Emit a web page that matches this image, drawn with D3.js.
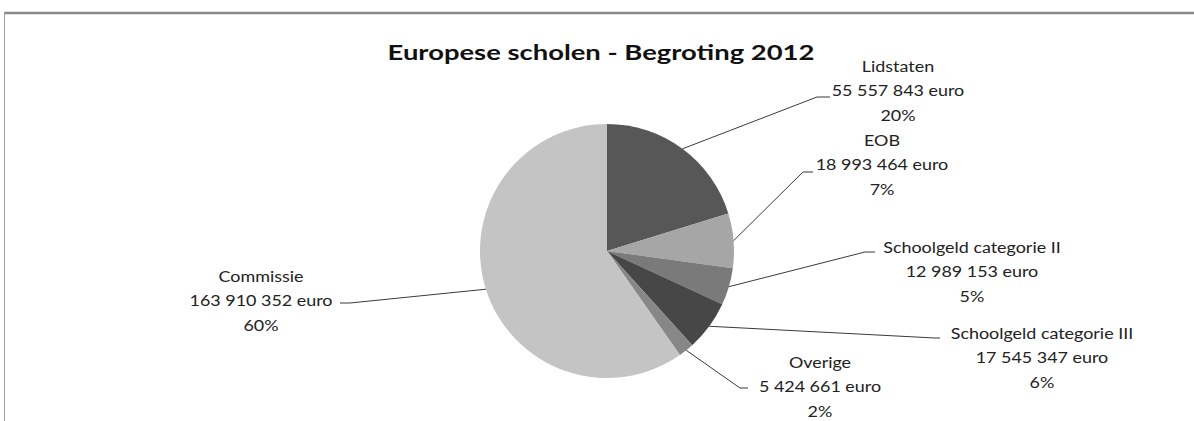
<!DOCTYPE html>
<html>
<head>
<meta charset="utf-8">
<script src="https://cdn.jsdelivr.net/npm/d3@7"></script>
<style>
  html, body { margin: 0; padding: 0; background: #fff; }
  svg { display: block; }
  text { font-family: Lato, "Open Sans", sans-serif; fill: #222; }
</style>
</head>
<body>
<svg id="chart" width="1194" height="421"></svg>
<script>
// ---- data ----
const categories = ["Lidstaten", "EOB", "Schoolgeld categorie II", "Schoolgeld categorie  III", "Overige", "Commissie"];
const values = [55557843, 18993464, 12989153, 17545347, 5424661, 163910352];
const amountLabels = ["55 557 843 euro", "18 993 464 euro", "12 989 153 euro", "17 545 347 euro", "5 424 661 euro", "163 910 352 euro"];
const percentLabels = ["20%", "7%", "5%", "6%", "2%", "60%"];
const title = "Europese scholen - Begroting 2012";

// ---- styles / layout ----
const colors = ["#575757", "#a6a6a6", "#7a7a7a", "#474747", "#878787", "#c4c4c4"];
const cx = 607, cy = 251, radius = 127;
// label layout: text center x, first line center y, leader elbow, leader end
const labelLayout = [
  { tx: 898, ty: 66, elbow: [817, 97], end: [830, 97] },
  { tx: 882, ty: 140, elbow: [803, 172], end: [813, 172] },
  { tx: 972, ty: 247, elbow: [865, 252], end: [875, 252] },
  { tx: 1042, ty: 333, elbow: [935, 338], end: [940, 338] },
  { tx: 820, ty: 362, elbow: [740, 388], end: [748, 388] },
  { tx: 261, ty: 276, elbow: [350, 303], end: [340, 303] }
];
const lineGap = 24.8;
const labelStretch = 1.12;
const titleWidth = 427;

const svg = d3.select("#chart");

// frame
svg.append("line").attr("x1", 4).attr("x2", 1194).attr("y1", 13).attr("y2", 13)
  .attr("stroke", "#8a8a8a").attr("stroke-width", 2.5);
svg.append("line").attr("x1", 4.5).attr("x2", 4.5).attr("y1", 12).attr("y2", 421)
  .attr("stroke", "#a0a0a0").attr("stroke-width", 1);

// title
const titleX = 601;
const tt = svg.append("text").attr("x", titleX).attr("y", 60).attr("text-anchor", "middle")
  .style("font-weight", "bold").style("font-size", "21px").style("fill", "#111")
  .text(title);
const tLen = tt.node().getComputedTextLength();
const tScale = titleWidth / tLen;
tt.attr("transform", `translate(${titleX},0) scale(${tScale},1) translate(${-titleX},0)`);

const data = categories.map((c, i) => ({ name: c, value: values[i], amount: amountLabels[i], pct: percentLabels[i], color: colors[i], layout: labelLayout[i] }));

const pie = d3.pie().sort(null).value(d => d.value);
const arcs = pie(data);
const arc = d3.arc().innerRadius(0).outerRadius(radius);

const g = svg.append("g").attr("transform", `translate(${cx},${cy})`);
g.selectAll("path").data(arcs).join("path")
  .attr("d", arc)
  .attr("fill", d => d.data.color)
  .attr("stroke", "none");

// leader lines + labels
arcs.forEach(a => {
  const mid = (a.startAngle + a.endAngle) / 2;
  const sx = cx + Math.sin(mid) * radius;
  const sy = cy - Math.cos(mid) * radius;
  const L = a.data.layout;
  svg.append("polyline")
    .attr("points", [[sx, sy], L.elbow, L.end].map(p => p.join(",")).join(" "))
    .attr("fill", "none").attr("stroke", "#3a3a3a").attr("stroke-width", 1);

  const t = svg.append("text").attr("text-anchor", "middle").style("font-size", "16px")
    .attr("transform", `translate(${L.tx},0) scale(${labelStretch},1) translate(${-L.tx},0)`);
  [a.data.name, a.data.amount, a.data.pct].forEach((s, k) => {
    t.append("tspan").attr("x", L.tx).attr("y", L.ty + k * lineGap + 5.6).text(s);
  });
});
</script>
</body>
</html>
